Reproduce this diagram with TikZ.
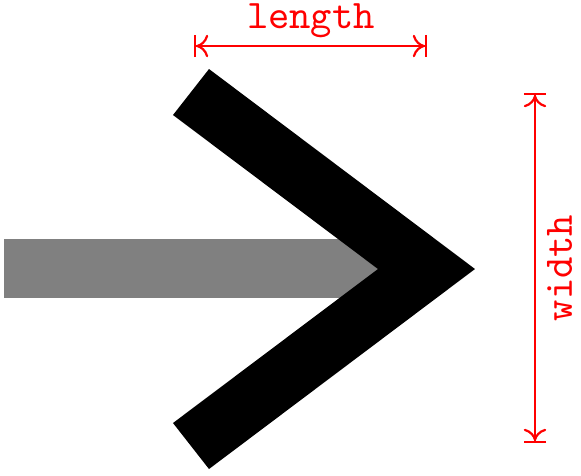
\documentclass[tikz,border=0pt]{standalone}
\usetikzlibrary{arrows.meta}
\begin{document}
\begin{tikzpicture}[x=0.25pt,y=-0.25pt,
  dim/.style={red,line width=0.55pt,
    {Bar[width=5.6pt]Computer Modern Rightarrow[length=3pt,width=5.6pt]}-{Computer Modern Rightarrow[length=3pt,width=5.6pt]Bar[width=5.6pt]}},
  lab/.style={red,font=\ttfamily\fontsize{10.15}{12}\selectfont,inner sep=0pt}]
\useasboundingbox (0,0) rectangle (581,475);
\fill[gray] (4,239) rectangle (400,298);
\fill[black] (209,69) -- (475,269) -- (209,469) -- (173,423) -- (378,269) -- (173,115) -- cycle;
\coordinate (l1) at (194,46);
\coordinate (l2) at (427,46);
\draw[dim] (l1) -- (l2);
\node[lab,anchor=base] (ltext) at (311,28) {length};
\coordinate (w1) at (535,93);
\coordinate (w2) at (535,443);
\draw[dim] (w1) -- (w2);
\node[lab,rotate=90,anchor=base] (wtext) at (572,268) {width};
\end{tikzpicture}
\end{document}
